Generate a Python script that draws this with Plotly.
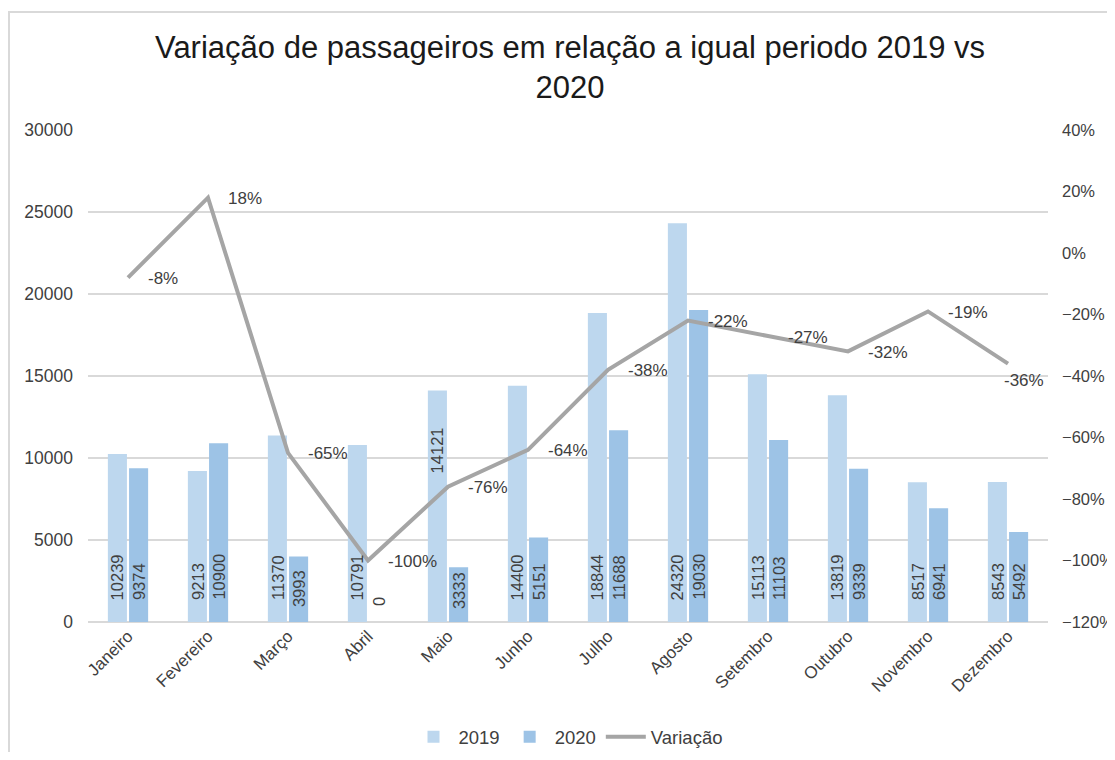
import plotly.graph_objects as go

meses = ["Janeiro", "Fevereiro", "Março", "Abril", "Maio", "Junho", "Julho",
         "Agosto", "Setembro", "Outubro", "Novembro", "Dezembro"]
v2019 = [10239, 9213, 11370, 10791, 14121, 14400, 18844, 24320, 15113, 13819, 8517, 8543]
v2020 = [9374, 10900, 3993, 0, 3333, 5151, 11688, 19030, 11103, 9339, 6941, 5492]
variacao = [-0.08, 0.18, -0.65, -1.00, -0.76, -0.64, -0.38, -0.22, -0.27, -0.32, -0.19, -0.36]

FONT = "Liberation Sans, Arial, sans-serif"
TXT = "#404040"

# label placement (style): pixel lift of bar labels above the axis
LIFT_DEFAULT = 20
LIFT_OVERRIDE = {("2019", "Maio"): 147, ("2020", "Março"): 13,
                 ("2020", "Abril"): 14, ("2020", "Maio"): 11}
BAR_OFFSET = 10.6

fig = go.Figure()

fig.add_trace(go.Bar(x=meses, y=v2019, name="2019",
                     marker=dict(color="#BDD7EE", line=dict(width=0))))
fig.add_trace(go.Bar(x=meses, y=v2020, name="2020",
                     marker=dict(color="#9DC3E6", line=dict(width=0))))
fig.add_trace(go.Scatter(x=meses, y=variacao, name="Variação", mode="lines", yaxis="y2",
                         line=dict(color="#A5A5A5", width=4)))

# bar data labels (rotated)
for serie, vals, off in (("2019", v2019, -BAR_OFFSET), ("2020", v2020, BAR_OFFSET)):
    for m, v in zip(meses, vals):
        fig.add_annotation(x=m, y=0, xref="x", yref="y", text=str(v), showarrow=False,
                           textangle=-90, xanchor="center", yanchor="bottom",
                           xshift=off, yshift=LIFT_OVERRIDE.get((serie, m), LIFT_DEFAULT),
                           font=dict(family=FONT, size=16.5, color=TXT))

# line data labels
for i, (m, v) in enumerate(zip(meses, variacao)):
    if i == len(meses) - 1:
        fig.add_annotation(x=m, y=v, yref="y2", text=f"{round(v*100)}%", showarrow=False,
                           xanchor="center", yanchor="middle", xshift=16, yshift=-17,
                           font=dict(family=FONT, size=17, color=TXT))
    else:
        fig.add_annotation(x=m, y=v, yref="y2", text=f"{round(v*100)}%", showarrow=False,
                           xanchor="left", yanchor="middle", xshift=18, yshift=-1,
                           font=dict(family=FONT, size=17, color=TXT))

# title as annotation (two lines)
fig.add_annotation(x=(570 - 88) / 960, y=(622 - 67) / 492, xref="paper", yref="paper",
                   text="Variação de passageiros em relação a igual periodo 2019 vs<br>2020",
                   showarrow=False, xanchor="center", yanchor="middle",
                   font=dict(family=FONT, size=31, color="#1a1a1a"))

# outer frame
fig.add_shape(type="rect", xref="paper", yref="paper",
              x0=(9 - 88) / 960, x1=1.3, y0=-0.5, y1=(622 - 12) / 492,
              line=dict(color="#D9D9D9", width=2), fillcolor="rgba(0,0,0,0)", layer="below")

fig.update_layout(
    width=1107, height=744,
    margin=dict(l=80, r=67, t=122, b=130, autoexpand=False),
    paper_bgcolor="white", plot_bgcolor="white",
    barmode="group", bargap=0.47, bargroupgap=0.1,
    font=dict(family=FONT, size=17, color=TXT),
    xaxis=dict(tickangle=-45, showgrid=False, showline=False, ticks="", automargin=False,
               tickfont=dict(family=FONT, size=17, color=TXT)),
    yaxis=dict(range=[0, 30000], dtick=5000, showgrid=True, gridcolor="#D9D9D9", gridwidth=1.5,
               zeroline=True, zerolinecolor="#D9D9D9", zerolinewidth=1.5, showline=False,
               tickformat="d", ticklabelstandoff=14, automargin=False,
               tickfont=dict(family=FONT, size=17.5, color=TXT)),
    yaxis2=dict(range=[-1.2, 0.4], dtick=0.2, tickformat=".0%", overlaying="y", side="right",
                showgrid=False, zeroline=False, showline=False, ticklabelstandoff=13,
                automargin=False,
                tickfont=dict(family=FONT, size=16.5, color=TXT)),
    legend=dict(orientation="h", x=0.5, xanchor="center", y=-0.234, yanchor="middle",
                font=dict(family=FONT, size=18.5, color=TXT), bgcolor="rgba(0,0,0,0)",
                itemwidth=40),
    showlegend=True,
)

fig.write_html("out.html")
